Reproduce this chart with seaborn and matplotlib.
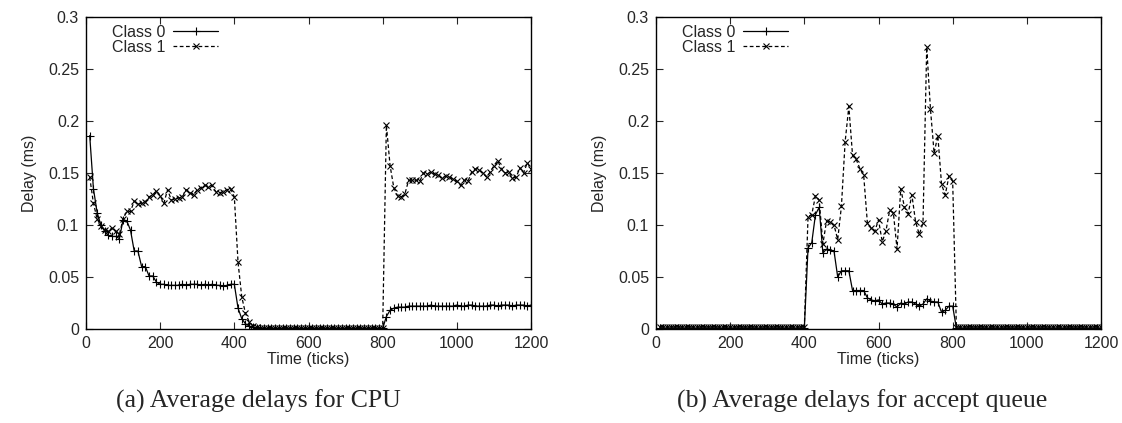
import numpy as np
import pandas as pd
import seaborn as sns
import matplotlib
matplotlib.use("Agg")
import matplotlib.pyplot as plt

# sample times (ticks), one point every 10 ticks
ticks = np.arange(10, 1201, 10)

# (a) CPU delays
cpu_class0 = [
    0.186, 0.135, 0.112, 0.100, 0.094, 0.090, 0.089, 0.089, 0.087, 0.105,
    0.104, 0.095, 0.075, 0.075, 0.060, 0.060, 0.051, 0.051, 0.045, 0.043,
    0.043, 0.042, 0.042, 0.042, 0.042, 0.043, 0.042, 0.043, 0.043, 0.043,
    0.042, 0.043, 0.042, 0.043, 0.042, 0.042, 0.041, 0.042, 0.043, 0.043,
    0.020, 0.010, 0.005, 0.003, 0.0015, 0.001, 0.0007,
    0.0005, 0.0005, 0.0005, 0.0005, 0.0005, 0.0005, 0.0005, 0.0005, 0.0005, 0.0005, 0.0005,
    0.0005, 0.0005, 0.0005, 0.0005, 0.0005, 0.0005, 0.0005, 0.0005, 0.0005, 0.0005, 0.0005,
    0.0005, 0.0005, 0.0005, 0.0005, 0.0005, 0.0005, 0.0005, 0.0005, 0.0005, 0.0005, 0.0005,
    0.012, 0.018, 0.020, 0.021, 0.021, 0.021, 0.022, 0.022, 0.022, 0.022,
    0.022, 0.022, 0.023, 0.022, 0.022, 0.022, 0.022, 0.022, 0.022, 0.023,
    0.022, 0.022, 0.023, 0.023, 0.022, 0.022, 0.022, 0.022, 0.023, 0.023,
    0.022, 0.023, 0.023, 0.023, 0.022, 0.023, 0.023, 0.023, 0.022, 0.023,
]
cpu_class1 = [
    0.146, 0.121, 0.106, 0.099, 0.095, 0.094, 0.097, 0.094, 0.091, 0.106,
    0.113, 0.113, 0.123, 0.120, 0.121, 0.122, 0.127, 0.129, 0.133, 0.128,
    0.121, 0.134, 0.124, 0.125, 0.126, 0.127, 0.134, 0.131, 0.129, 0.134,
    0.136, 0.138, 0.137, 0.138, 0.132, 0.131, 0.132, 0.134, 0.135, 0.127,
    0.064, 0.031, 0.015, 0.007, 0.003, 0.0015, 0.001,
    0.0005, 0.0005, 0.0005, 0.0005, 0.0005, 0.0005, 0.0005, 0.0005, 0.0005, 0.0005, 0.0005,
    0.0005, 0.0005, 0.0005, 0.0005, 0.0005, 0.0005, 0.0005, 0.0005, 0.0005, 0.0005, 0.0005,
    0.0005, 0.0005, 0.0005, 0.0005, 0.0005, 0.0005, 0.0005, 0.0005, 0.0005, 0.0005, 0.0005,
    0.196, 0.157, 0.136, 0.128, 0.127, 0.130, 0.143, 0.143, 0.143, 0.142,
    0.150, 0.149, 0.151, 0.149, 0.148, 0.145, 0.147, 0.146, 0.144, 0.142,
    0.138, 0.143, 0.142, 0.151, 0.154, 0.153, 0.150, 0.146, 0.151, 0.157,
    0.162, 0.154, 0.150, 0.151, 0.145, 0.146, 0.155, 0.150, 0.160, 0.154,
]

# (b) accept queue delays
acc_class0 = [
    0.001, 0.001, 0.001, 0.001, 0.001, 0.001, 0.001, 0.001, 0.001, 0.001,
    0.001, 0.001, 0.001, 0.001, 0.001, 0.001, 0.001, 0.001, 0.001, 0.001,
    0.001, 0.001, 0.001, 0.001, 0.001, 0.001, 0.001, 0.001, 0.001, 0.001,
    0.001, 0.001, 0.001, 0.001, 0.001, 0.001, 0.001, 0.001, 0.001, 0.001,
    0.078, 0.083, 0.110, 0.117, 0.073, 0.077, 0.076, 0.075, 0.050, 0.056,
    0.056, 0.056, 0.037, 0.037, 0.037, 0.037, 0.030, 0.028, 0.027, 0.028,
    0.024, 0.025, 0.025, 0.024, 0.021, 0.025, 0.024, 0.026, 0.026, 0.024,
    0.022, 0.024, 0.029, 0.027, 0.026, 0.026, 0.016, 0.018, 0.022, 0.022,
    0.001, 0.001, 0.001, 0.001, 0.001, 0.001, 0.001, 0.001, 0.001, 0.001,
    0.001, 0.001, 0.001, 0.001, 0.001, 0.001, 0.001, 0.001, 0.001, 0.001,
    0.001, 0.001, 0.001, 0.001, 0.001, 0.001, 0.001, 0.001, 0.001, 0.001,
    0.001, 0.001, 0.001, 0.001, 0.001, 0.001, 0.001, 0.001, 0.001, 0.001,
]
acc_class1 = [
    0.002, 0.002, 0.002, 0.002, 0.002, 0.002, 0.002, 0.002, 0.002, 0.002,
    0.002, 0.002, 0.002, 0.002, 0.002, 0.002, 0.002, 0.002, 0.002, 0.002,
    0.002, 0.002, 0.002, 0.002, 0.002, 0.002, 0.002, 0.002, 0.002, 0.002,
    0.002, 0.002, 0.002, 0.002, 0.002, 0.002, 0.002, 0.002, 0.002, 0.002,
    0.108, 0.110, 0.128, 0.124, 0.082, 0.104, 0.103, 0.100, 0.086, 0.118,
    0.180, 0.214, 0.167, 0.163, 0.154, 0.148, 0.102, 0.097, 0.094, 0.105,
    0.084, 0.094, 0.114, 0.112, 0.077, 0.135, 0.117, 0.111, 0.129, 0.103,
    0.091, 0.102, 0.271, 0.212, 0.169, 0.186, 0.139, 0.129, 0.147, 0.142,
    0.002, 0.002, 0.002, 0.002, 0.002, 0.002, 0.002, 0.002, 0.002, 0.002,
    0.002, 0.002, 0.002, 0.002, 0.002, 0.002, 0.002, 0.002, 0.002, 0.002,
    0.002, 0.002, 0.002, 0.002, 0.002, 0.002, 0.002, 0.002, 0.002, 0.002,
    0.002, 0.002, 0.002, 0.002, 0.002, 0.002, 0.002, 0.002, 0.002, 0.002,
]

xtick_vals = [0, 200, 400, 600, 800, 1000, 1200]
ytick_vals = [0, 0.05, 0.1, 0.15, 0.2, 0.25, 0.3]
ytick_labels = ["0", "0.05", "0.1", "0.15", "0.2", "0.25", "0.3"]
captions = ["(a) Average delays for CPU", "(b) Average delays for accept queue"]

sns.set_style("ticks")
plt.rcParams["font.family"] = ["Liberation Sans", "DejaVu Sans"]
fs = 11.5

fig = plt.figure(figsize=(11.22, 4.23), dpi=100)
ax_a = fig.add_axes([86 / 1122, 94 / 423, 445 / 1122, 312 / 423])
ax_b = fig.add_axes([656 / 1122, 94 / 423, 445 / 1122, 312 / 423])


def draw_panel(ax, c0, c1):
    sns.lineplot(x=ticks, y=c0, ax=ax, color="black", lw=0.9, marker="+",
                 markersize=5.5, markeredgewidth=0.8, markeredgecolor="black",
                 label="Class 0")
    sns.lineplot(x=ticks, y=c1, ax=ax, color="black", lw=0.9, marker="x",
                 markersize=4.5, markeredgewidth=0.8, markeredgecolor="black",
                 linestyle=(0, (3, 2)), label="Class 1")
    ax.set_xlim(0, 1200)
    ax.set_ylim(0, 0.3)
    ax.set_xticks(xtick_vals)
    ax.set_yticks(ytick_vals)
    ax.set_yticklabels(ytick_labels)
    ax.tick_params(direction="in", top=True, right=True, length=5,
                   width=0.8, labelsize=fs, pad=5)
    for s in ax.spines.values():
        s.set_linewidth(1.0)
        s.set_color("black")
    ax.set_xlabel("Time (ticks)", fontsize=fs, labelpad=1)
    ax.set_ylabel("Delay (ms)", fontsize=fs, labelpad=8)
    ax.legend(loc="upper left", bbox_to_anchor=(0.04, 1.0), markerfirst=False,
              frameon=False, fontsize=11.5, handlelength=2.8,
              handletextpad=0.5, labelspacing=0.0, borderaxespad=0.1)


draw_panel(ax_a, cpu_class0, cpu_class1)
draw_panel(ax_b, acc_class0, acc_class1)

fig.text(258 / 1122, 1 - 401 / 423, captions[0], ha="center", va="center",
         fontsize=18.5, family="Liberation Serif")
fig.text(862 / 1122, 1 - 401 / 423, captions[1], ha="center", va="center",
         fontsize=18.5, family="Liberation Serif")

fig.savefig("out.png", dpi=100)
